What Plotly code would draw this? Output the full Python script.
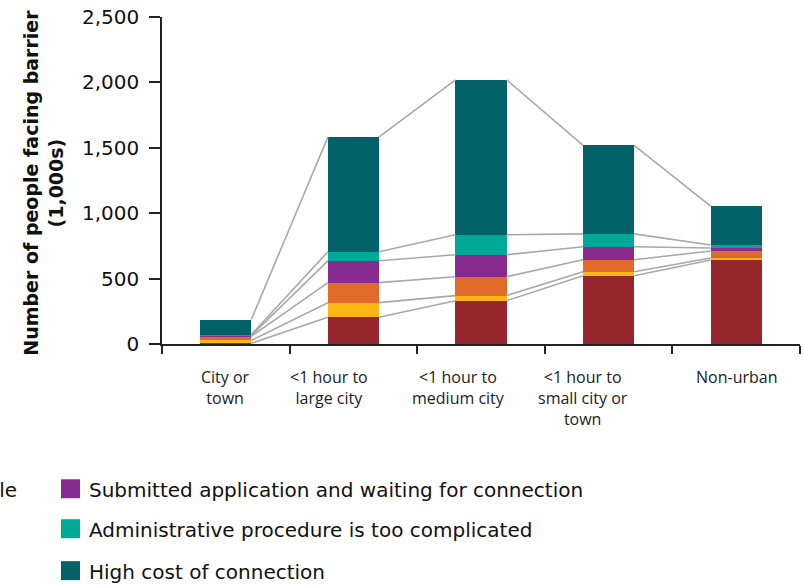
import plotly.graph_objects as go

categories = ["City or<br>town", "&lt;1 hour to<br>large city", "&lt;1 hour to<br>medium city",
              "&lt;1 hour to<br>small city or<br>town", "Non-urban"]
series_names = ["Grid is not available", "Too far from grid", "Monthly fee is too high",
                "Submitted application and waiting for connection",
                "Administrative procedure is too complicated",
                "High cost of connection"]
grid_na = [5, 204, 331, 522, 642]
too_far = [22, 112, 39, 31, 16]
monthly_fee = [31, 153, 144, 91, 53]
waiting = [7, 167, 168, 99, 23]
admin = [7, 69, 153, 99, 23]
high_cost = [115, 877, 1185, 677, 297]
y_ticks = [0, 500, 1000, 1500, 2000, 2500]

series_values = [grid_na, too_far, monthly_fee, waiting, admin, high_cost]
colors = ["#96252C", "#FDB714", "#E06A2A", "#872B90", "#00A896", "#006168"]
label_shift = [0, -24, -23, -26, 0]

FONT = "Open Sans"
FONT2 = "DejaVu Sans"
W, H = 804, 585
ML, MR, MT, MB = 162, 4, 17, 240.5
BAR_W = 0.4

fig = go.Figure()
xs = list(range(len(categories)))

# connecting lines between cumulative segment tops
cum = [0] * len(categories)
levels = []
for vals in series_values:
    cum = [c + v for c, v in zip(cum, vals)]
    levels.append(cum)
for lvl in levels:
    lx, ly = [], []
    for i in range(len(categories) - 1):
        lx += [i + BAR_W / 2, i + 1 - BAR_W / 2, None]
        ly += [lvl[i], lvl[i + 1], None]
    fig.add_trace(go.Scatter(x=lx, y=ly, mode="lines", line=dict(color="#A8A8A8", width=1.6),
                             showlegend=False, hoverinfo="skip"))

for name, vals, col in zip(series_names, series_values, colors):
    fig.add_trace(go.Bar(x=xs, y=vals, name=name, marker=dict(color=col, line=dict(width=0)),
                         width=BAR_W, showlegend=False))

plot_w = W - ML - MR
plot_h = H - MT - MB


def px_x(px):
    return (px - ML) / plot_w


def px_y(py):
    return (H - MB - py) / plot_h


annotations = []
for i, lab in enumerate(categories):
    annotations.append(dict(x=i, y=0, xref="x", yref="y", text=lab, showarrow=False,
                            xanchor="center", yanchor="top", yshift=-20, xshift=label_shift[i],
                            align="center", font=dict(family=FONT, size=16, color="#222")))

annotations.append(dict(x=px_x(44), y=px_y(183), xref="paper", yref="paper",
                        text="<b>Number of people facing barrier<br>(1,000s)</b>", textangle=-90,
                        showarrow=False, xanchor="center", yanchor="middle", align="center",
                        font=dict(family=FONT2, size=19, color="#111")))

shapes = []
row_y = [489.5, 529.5, 571.5]
# right legend column (series 4-6)
for r, k in enumerate([3, 4, 5]):
    cy = row_y[r]
    shapes.append(dict(type="rect", xref="paper", yref="paper", x0=px_x(61), x1=px_x(80),
                       y0=px_y(cy + 9.5), y1=px_y(cy - 9.5), fillcolor=colors[k], line=dict(width=0)))
    annotations.append(dict(x=px_x(87), y=px_y(cy + 1), xref="paper", yref="paper", text=series_names[k],
                            showarrow=False, xanchor="left", yanchor="middle",
                            font=dict(family=FONT2, size=20, color="#111")))
# left legend column (outside the visible page, as in the reference)
annotations.append(dict(x=px_x(19), y=px_y(row_y[0] + 1), xref="paper", yref="paper", text=series_names[0],
                        showarrow=False, xanchor="right", yanchor="middle",
                        font=dict(family=FONT2, size=20, color="#111")))

fig.update_layout(
    width=W, height=H, margin=dict(l=ML, r=MR, t=MT, b=MB),
    paper_bgcolor="white", plot_bgcolor="white", barmode="stack",
    font=dict(family=FONT, color="#111"),
    xaxis=dict(range=[-0.5, len(categories) - 0.5], tickvals=[i - 0.5 for i in range(len(categories) + 1)],
               ticktext=[""] * (len(categories) + 1), ticks="outside", ticklen=8, tickwidth=1.5,
               tickcolor="#222", showline=True, linecolor="#222", linewidth=1.5, showgrid=False,
               zeroline=False),
    yaxis=dict(range=[0, 2500], tickvals=y_ticks, tickformat=",", ticks="outside", ticklen=11,
               tickwidth=1.5, tickcolor="#222", showline=True, linecolor="#222", linewidth=1.5,
               showgrid=False, zeroline=False, ticklabelstandoff=6,
               tickfont=dict(family=FONT2, size=20, color="#111")),
    annotations=annotations, shapes=shapes, showlegend=False,
)

fig.write_html("out.html", config={"displayModeBar": False},
               post_script="document.body.style.margin='0';")
